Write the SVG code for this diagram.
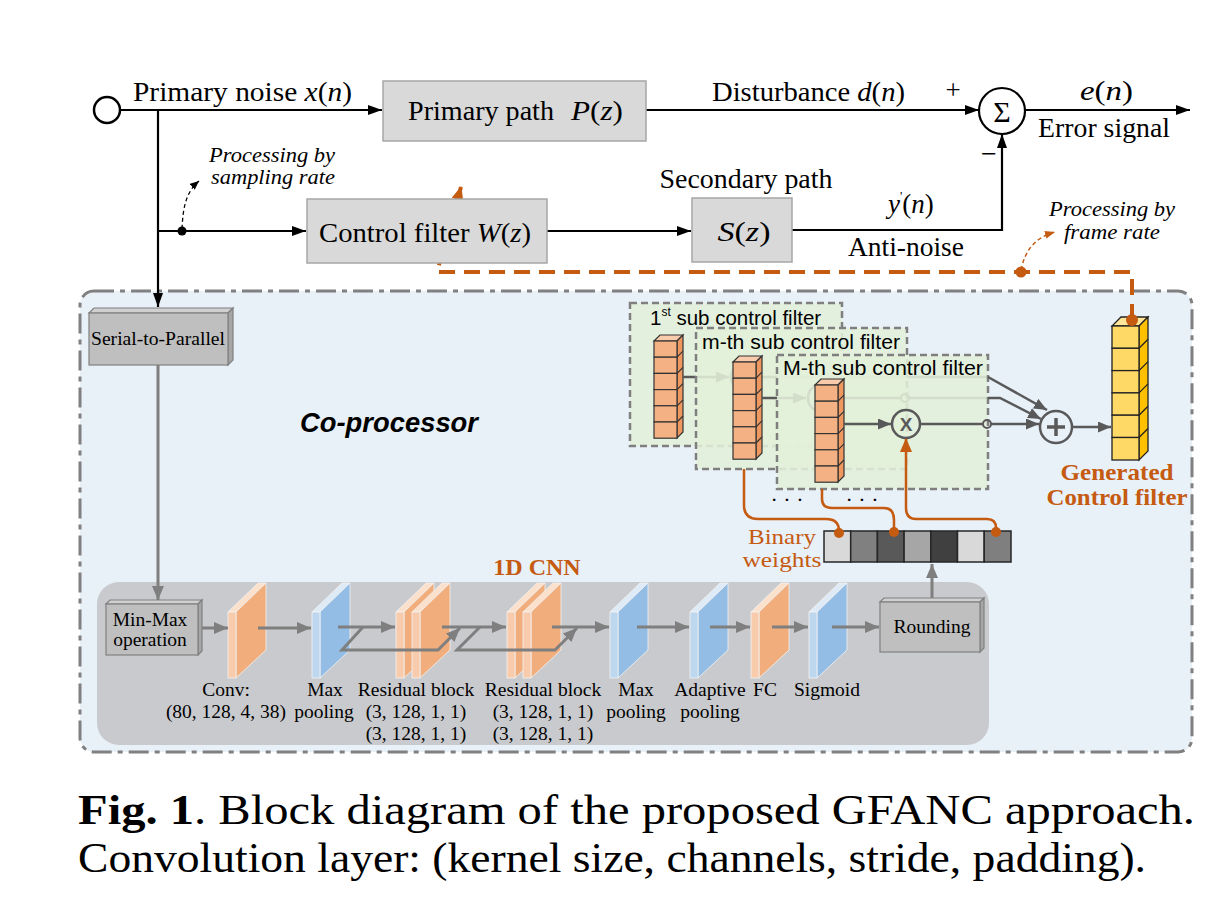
<svg xmlns="http://www.w3.org/2000/svg" width="1224" height="902" viewBox="0 0 1224 902">
<style>
.t{font-family:"Liberation Serif","Times New Roman",serif;fill:#000}
.s{font-family:"Liberation Sans",Arial,sans-serif;fill:#000}
.box{fill:#d9d9d9;stroke:#a6a6a6;stroke-width:1.5}
.ln{stroke:#000;stroke-width:2.2;fill:none}
.gl{stroke:#7f7f7f;stroke-width:3;fill:none}
.dl{stroke:#595959;stroke-width:2.5;fill:none}
.or{stroke:#c55a11;stroke-width:2.5;fill:none}
.sub{fill:#e2efda;fill-opacity:.88;stroke:#7f7f7f;stroke-width:2.5;stroke-dasharray:7 4}
.cf{fill:#f4b183;stroke:#333;stroke-width:1.2}
.cs{fill:#ee9860;stroke:#333;stroke-width:1.2}
.ct{fill:#f8cbad;stroke:#333;stroke-width:1.2}
.yf{fill:#ffd966;stroke:#222;stroke-width:1.3}
.ys{fill:#ffc000;stroke:#222;stroke-width:1.3}
.yt{fill:#ffe699;stroke:#222;stroke-width:1.3}
.ot{fill:#c55a11}
</style>
<defs>
<marker id="ab" markerUnits="userSpaceOnUse" markerWidth="14" markerHeight="10" refX="14" refY="5" orient="auto"><path d="M0,0L14,5L0,10z" fill="#000"/></marker>
<marker id="abs" markerUnits="userSpaceOnUse" markerWidth="9" markerHeight="8" refX="9" refY="4" orient="auto"><path d="M0,0L9,4L0,8z" fill="#000"/></marker>
<marker id="ag" markerUnits="userSpaceOnUse" markerWidth="14" markerHeight="12" refX="14" refY="6" orient="auto"><path d="M0,0L14,6L0,12z" fill="#7f7f7f"/></marker>
<marker id="ad" markerUnits="userSpaceOnUse" markerWidth="13" markerHeight="11" refX="13" refY="5.5" orient="auto"><path d="M0,0L13,5.5L0,11z" fill="#595959"/></marker>
<marker id="ao" markerUnits="userSpaceOnUse" markerWidth="14" markerHeight="12" refX="13" refY="6" orient="auto"><path d="M0,0L14,6L0,12z" fill="#c55a11"/></marker>
<marker id="aos" markerUnits="userSpaceOnUse" markerWidth="10" markerHeight="8" refX="10" refY="4" orient="auto"><path d="M0,0L10,4L0,8z" fill="#c55a11"/></marker>
<g id="slabO">
<polygon points="0,29 8,29 38,0 30,0" fill="#fbe0cc" stroke="#f2f2f2" stroke-width="0.8"/>
<polygon points="8,29 38,0 38,67 8,95" fill="#f1ad7c" stroke="#f2f2f2" stroke-width="0.8"/>
<rect x="0" y="29" width="8" height="66" fill="#f8cbad" stroke="#f2f2f2" stroke-width="0.8"/>
</g>
<g id="slabB">
<polygon points="0,29 8,29 38,0 30,0" fill="#deebf7" stroke="#f2f2f2" stroke-width="0.8"/>
<polygon points="8,29 38,0 38,67 8,95" fill="#93bde4" stroke="#f2f2f2" stroke-width="0.8"/>
<rect x="0" y="29" width="8" height="66" fill="#bdd7ee" stroke="#f2f2f2" stroke-width="0.8"/>
</g>
<g id="col">
<polygon points="0,0 23,0 29,-6 6,-6" class="ct"/>
<polygon points="23,0 29,-6 29,91 23,97" class="cs"/>
<rect x="0" y="0" width="23" height="16.2" class="cf"/>
<rect x="0" y="16.2" width="23" height="16.2" class="cf"/>
<rect x="0" y="32.4" width="23" height="16.2" class="cf"/>
<rect x="0" y="48.6" width="23" height="16.2" class="cf"/>
<rect x="0" y="64.8" width="23" height="16.2" class="cf"/>
<rect x="0" y="81" width="23" height="16.2" class="cf"/>
<path d="M23,16.2l6,-6M23,32.4l6,-6M23,48.6l6,-6M23,64.8l6,-6M23,81l6,-6" stroke="#333" stroke-width="1.2"/>
</g>
</defs>
<rect width="1224" height="902" fill="#fff"/>

<g id="coprocessor">
<rect x="80" y="291" width="1112" height="461" rx="14" fill="#e8f0f8" stroke="#808080" stroke-width="3" stroke-dasharray="20 6 5 6"/>
<text class="s" x="300" y="432" font-size="27" font-weight="bold" font-style="italic" textLength="178" lengthAdjust="spacingAndGlyphs">Co-processor</text>
</g>

<g id="cnn">
<rect x="97" y="582" width="892" height="163" rx="22" fill="#c9cacd"/>
<text class="t" x="537" y="575" font-size="24" font-weight="bold" text-anchor="middle" style="fill:#c55a11">1D CNN</text>
</g>

<g id="minmax">
<polygon points="106,604 110,600 202,600 198,604" fill="#d0d0d0" stroke="#808080" stroke-width="1.2"/>
<polygon points="198,604 202,600 202,651 198,655" fill="#a6a6a6" stroke="#808080" stroke-width="1.2"/>
<rect x="106" y="604" width="92" height="51" fill="#bfbfbf" stroke="#808080" stroke-width="1.2"/>
<text class="t" x="150" y="626" font-size="19.5" text-anchor="middle">Min-Max</text>
<text class="t" x="150" y="646" font-size="19.5" text-anchor="middle">operation</text>
</g>
<g id="conv"><use href="#slabO" x="228" y="583"/>
<text class="t" x="226" y="696" font-size="19.5" text-anchor="middle">Conv:</text>
<text class="t" x="226" y="718" font-size="19.5" text-anchor="middle">(80, 128, 4, 38)</text></g>
<g id="maxpool1"><use href="#slabB" x="312" y="583"/>
<text class="t" x="325" y="696" font-size="19.5" text-anchor="middle">Max</text>
<text class="t" x="324" y="718" font-size="19.5" text-anchor="middle">pooling</text></g>
<g id="res1"><use href="#slabO" x="396" y="583"/><use href="#slabO" x="412" y="583"/>
<text class="t" x="416" y="696" font-size="19.5" text-anchor="middle">Residual block</text>
<text class="t" x="416" y="718" font-size="19.5" text-anchor="middle">(3, 128, 1, 1)</text>
<text class="t" x="416" y="740" font-size="19.5" text-anchor="middle">(3, 128, 1, 1)</text></g>
<g id="res2"><use href="#slabO" x="507" y="583"/><use href="#slabO" x="523" y="583"/>
<text class="t" x="543" y="696" font-size="19.5" text-anchor="middle">Residual block</text>
<text class="t" x="543" y="718" font-size="19.5" text-anchor="middle">(3, 128, 1, 1)</text>
<text class="t" x="543" y="740" font-size="19.5" text-anchor="middle">(3, 128, 1, 1)</text></g>
<g id="maxpool2"><use href="#slabB" x="610" y="583"/>
<text class="t" x="636" y="696" font-size="19.5" text-anchor="middle">Max</text>
<text class="t" x="636" y="718" font-size="19.5" text-anchor="middle">pooling</text></g>
<g id="adaptive"><use href="#slabB" x="690" y="583"/>
<text class="t" x="710" y="696" font-size="19.5" text-anchor="middle">Adaptive</text>
<text class="t" x="710" y="718" font-size="19.5" text-anchor="middle">pooling</text></g>
<g id="fc"><use href="#slabO" x="751" y="583"/>
<text class="t" x="765" y="696" font-size="19.5" text-anchor="middle">FC</text></g>
<g id="sigmoid"><use href="#slabB" x="809" y="583"/>
<text class="t" x="827" y="696" font-size="19.5" text-anchor="middle">Sigmoid</text></g>
<g id="rounding">
<polygon points="880,602 884,598 984,598 980,602" fill="#d0d0d0" stroke="#808080" stroke-width="1.2"/>
<polygon points="980,602 984,598 984,648 980,652" fill="#a6a6a6" stroke="#808080" stroke-width="1.2"/>
<rect x="880" y="602" width="100" height="50" fill="#bfbfbf" stroke="#808080" stroke-width="1.2"/>
<text class="t" x="932" y="633" font-size="19.5" text-anchor="middle">Rounding</text>
</g>

<g id="sub1">
<rect x="630" y="303" width="212" height="143" class="sub"/>
<text class="s" x="650" y="325" font-size="20.5">1<tspan font-size="12" dy="-9">st</tspan><tspan dy="9"> sub control filter</tspan></text>
<use href="#col" x="654" y="341"/>
<path class="dl" d="M683,377H729" marker-end="url(#ad)"/>
<circle cx="745" cy="377" r="14" fill="none" stroke="#595959" stroke-width="2.5"/>
<path class="dl" d="M759,377H821M829,377H988"/>
<circle cx="825" cy="377" r="4" fill="none" stroke="#595959" stroke-width="2"/>
</g>
<g id="subm">
<rect x="696" y="328" width="211" height="141" class="sub"/>
<text class="s" x="702" y="349" font-size="19.5" textLength="198" lengthAdjust="spacingAndGlyphs">m-th sub control filter</text>
<use href="#col" x="733" y="362"/>
<path class="dl" d="M762,398H806" marker-end="url(#ad)"/>
<circle cx="822" cy="398" r="14" fill="none" stroke="#595959" stroke-width="2.5"/>
<path class="dl" d="M836,398H901M909,398H988"/>
<circle cx="905" cy="398" r="4" fill="none" stroke="#595959" stroke-width="2"/>
</g>
<g id="subM">
<rect x="777" y="355" width="211" height="134" class="sub"/>
<text class="s" x="783" y="375" font-size="19.5" textLength="200" lengthAdjust="spacingAndGlyphs">M-th sub control filter</text>
<use href="#col" x="815" y="385"/>
<path class="dl" d="M844,424H891" marker-end="url(#ad)"/>
<circle cx="906" cy="424" r="14" fill="none" stroke="#595959" stroke-width="2.5"/>
<text class="s" x="906" y="431" font-size="19" font-weight="bold" text-anchor="middle" style="fill:#595959">X</text>
<path class="dl" d="M920,424H983"/>
<circle cx="987" cy="424" r="4" fill="none" stroke="#595959" stroke-width="2"/>
<text class="t" x="787" y="507" font-size="22" text-anchor="middle">· · ·</text>
<text class="t" x="862" y="507" font-size="22" text-anchor="middle">· · ·</text>
</g>
<g id="sum2">
<circle cx="1056" cy="427" r="16" fill="none" stroke="#595959" stroke-width="2.5"/>
<path d="M1047,427H1065M1056,418V436" stroke="#595959" stroke-width="3.5"/>
</g>
<g id="generated">
<polygon points="1112,326 1139,326 1148,317 1121,317" class="yt"/>
<polygon points="1139,326 1148,317 1148,451 1139,460" class="ys"/>
<rect x="1112" y="326" width="27" height="22.3" class="yf"/>
<rect x="1112" y="348.3" width="27" height="22.3" class="yf"/>
<rect x="1112" y="370.6" width="27" height="22.3" class="yf"/>
<rect x="1112" y="392.9" width="27" height="22.3" class="yf"/>
<rect x="1112" y="415.2" width="27" height="22.3" class="yf"/>
<rect x="1112" y="437.5" width="27" height="22.5" class="yf"/>
<path d="M1139,348.3l9,-9M1139,370.6l9,-9M1139,392.9l9,-9M1139,415.2l9,-9M1139,437.5l9,-9" stroke="#222" stroke-width="1.3"/>
<text class="t" x="1117" y="480" font-size="22.5" font-weight="bold" text-anchor="middle" textLength="113" lengthAdjust="spacingAndGlyphs" style="fill:#c55a11">Generated</text>
<text class="t" x="1117" y="505" font-size="22.5" font-weight="bold" text-anchor="middle" textLength="141" lengthAdjust="spacingAndGlyphs" style="fill:#c55a11">Control filter</text>
</g>
<g id="binary">
<rect x="824" y="531" width="26.7" height="31" fill="#d9d9d9" stroke="#262626" stroke-width="1.5"/>
<rect x="850.7" y="531" width="26.7" height="31" fill="#808080" stroke="#262626" stroke-width="1.5"/>
<rect x="877.4" y="531" width="26.7" height="31" fill="#595959" stroke="#262626" stroke-width="1.5"/>
<rect x="904.1" y="531" width="26.7" height="31" fill="#a6a6a6" stroke="#262626" stroke-width="1.5"/>
<rect x="930.8" y="531" width="26.7" height="31" fill="#404040" stroke="#262626" stroke-width="1.5"/>
<rect x="957.5" y="531" width="26.7" height="31" fill="#d9d9d9" stroke="#262626" stroke-width="1.5"/>
<rect x="984.2" y="531" width="26.8" height="31" fill="#7f7f7f" stroke="#262626" stroke-width="1.5"/>
<text class="t" x="782" y="544" font-size="22" text-anchor="middle" textLength="68" lengthAdjust="spacingAndGlyphs" style="fill:#c55a11">Binary</text>
<text class="t" x="782" y="567" font-size="22" text-anchor="middle" textLength="79" lengthAdjust="spacingAndGlyphs" style="fill:#c55a11">weights</text>
</g>

<g id="connectors">
<path d="M1132,320V272H437L461,187" fill="none" stroke="#c55a11" stroke-width="4" stroke-dasharray="16 9" marker-end="url(#ao)"/>
<circle cx="1132" cy="320" r="6" fill="#c55a11"/>
<circle cx="1021" cy="272" r="5.5" fill="#c55a11"/>
<path d="M1021,270C1025,251 1034,238 1055,232" fill="none" stroke="#c55a11" stroke-width="1.5" stroke-dasharray="4 3" marker-end="url(#aos)"/>
<path d="M120,110H382" class="ln" marker-end="url(#ab)"/>
<path d="M158,110V307" class="ln" marker-end="url(#ab)"/>
<path d="M158,231H306" class="ln" marker-end="url(#ab)"/>
<circle cx="182" cy="231" r="4.5" fill="#000"/>
<path d="M182,229C183,207 186,192 199,181" fill="none" stroke="#000" stroke-width="1.3" stroke-dasharray="4 3" marker-end="url(#abs)"/>
<path d="M547,231H691" class="ln" marker-end="url(#ab)"/>
<path d="M645,110H979" class="ln" marker-end="url(#ab)"/>
<path d="M1025,110H1190" class="ln" marker-end="url(#ab)"/>
<path d="M791,230H1002V134" class="ln" marker-end="url(#ab)"/>
<path d="M158,363V600" class="gl" marker-end="url(#ag)"/>
<path d="M202,628H228" class="gl" marker-end="url(#ag)"/>
<path d="M258,628H311" class="gl" marker-end="url(#ag)"/>
<path d="M338,627H395" class="gl" marker-end="url(#ag)"/>
<path d="M363,627L342,650H438L460,628" class="gl" marker-end="url(#ag)"/>
<path d="M442,627H506" class="gl" marker-end="url(#ag)"/>
<path d="M480,627L457,650H555L577,628" class="gl" marker-end="url(#ag)"/>
<path d="M552,627H609" class="gl" marker-end="url(#ag)"/>
<path d="M637,627H689" class="gl" marker-end="url(#ag)"/>
<path d="M710,627H750" class="gl" marker-end="url(#ag)"/>
<path d="M772,627H808" class="gl" marker-end="url(#ag)"/>
<path d="M832,627H879" class="gl" marker-end="url(#ag)"/>
<path d="M932,598V564" class="gl" marker-end="url(#ag)"/>
<path d="M988,377L1047,410" class="dl" marker-end="url(#ad)"/>
<path d="M988,398H1000L1041,419" class="dl" marker-end="url(#ad)"/>
<path d="M991,424H1039" class="dl" marker-end="url(#ad)"/>
<path d="M1072,427H1111" class="dl" marker-end="url(#ad)"/>
<path class="or" d="M744,469V505Q744,519 758,519H826Q839,519 839,531"/>
<path class="or" d="M822,489V499Q822,508 832,508H884Q894,508 894,520V531"/>
<path class="or" d="M996,532V528Q996,519 987,519H916Q906,519 906,508V439" marker-end="url(#ao)"/>
<circle cx="839" cy="533" r="5" fill="#c55a11"/>
<circle cx="894" cy="532" r="5" fill="#c55a11"/>
<circle cx="996" cy="532" r="5" fill="#c55a11"/>
</g>

<g id="source"><circle cx="107" cy="110" r="13" fill="#fff" stroke="#000" stroke-width="2.5"/></g>
<g id="primary-path">
<rect x="383" y="81" width="263" height="60" class="box"/>
<text class="t" x="408" y="120" font-size="27.5" textLength="146" lengthAdjust="spacingAndGlyphs">Primary path</text>
<text class="t" x="571" y="120" font-size="27.5" textLength="52" lengthAdjust="spacingAndGlyphs"><tspan font-style="italic">P</tspan>(<tspan font-style="italic">z</tspan>)</text>
</g>
<g id="control-filter">
<rect x="307" y="199" width="240" height="64" class="box"/>
<text class="t" x="319" y="242" font-size="27.5" textLength="212" lengthAdjust="spacingAndGlyphs">Control filter <tspan font-style="italic">W</tspan>(<tspan font-style="italic">z</tspan>)</text>
</g>
<g id="secondary-path">
<rect x="692" y="198" width="100" height="64" class="box"/>
<text class="t" x="744" y="241" font-size="27.5" text-anchor="middle" textLength="53" lengthAdjust="spacingAndGlyphs"><tspan font-style="italic">S</tspan>(<tspan font-style="italic">z</tspan>)</text>
<text class="t" x="746" y="188" font-size="27.5" text-anchor="middle" textLength="173" lengthAdjust="spacingAndGlyphs">Secondary path</text>
</g>
<g id="sum">
<circle cx="1002" cy="111" r="23" fill="#fff" stroke="#000" stroke-width="2.2"/>
<text class="t" x="1002" y="122" font-size="30" text-anchor="middle">Σ</text>
</g>
<g id="serial-to-parallel">
<polygon points="89,313 94,308 233,308 228,313" fill="#d0d0d0" stroke="#808080" stroke-width="1.2"/>
<polygon points="228,313 233,308 233,360 228,365" fill="#a6a6a6" stroke="#808080" stroke-width="1.2"/>
<rect x="89" y="313" width="139" height="52" fill="#bfbfbf" stroke="#808080" stroke-width="1.2"/>
<text class="t" x="158" y="345" font-size="19" text-anchor="middle" textLength="134" lengthAdjust="spacingAndGlyphs">Serial-to-Parallel</text>
</g>

<g id="labels">
<text class="t" x="133" y="101" font-size="27" textLength="219" lengthAdjust="spacingAndGlyphs">Primary noise <tspan font-style="italic">x</tspan>(<tspan font-style="italic">n</tspan>)</text>
<text class="t" x="712" y="101" font-size="27" textLength="193" lengthAdjust="spacingAndGlyphs">Disturbance <tspan font-style="italic">d</tspan>(<tspan font-style="italic">n</tspan>)</text>
<text class="t" x="953" y="99" font-size="27" text-anchor="middle">+</text>
<text class="t" x="1080" y="100" font-size="27" textLength="53" lengthAdjust="spacingAndGlyphs"><tspan font-style="italic">e</tspan>(<tspan font-style="italic">n</tspan>)</text>
<text class="t" x="1038" y="137" font-size="27" textLength="132" lengthAdjust="spacingAndGlyphs">Error signal</text>
<text class="t" x="989" y="163" font-size="28" text-anchor="middle">−</text>
<text class="t" x="888" y="213" font-size="27"><tspan font-style="italic">y</tspan><tspan font-size="13" dy="-13">'</tspan><tspan dy="13">(</tspan><tspan font-style="italic">n</tspan>)</text>
<text class="t" x="848" y="256" font-size="27" textLength="116" lengthAdjust="spacingAndGlyphs">Anti-noise</text>
<text class="t" x="209" y="162" font-size="20.5" font-style="italic" textLength="126" lengthAdjust="spacingAndGlyphs">Processing by</text>
<text class="t" x="211" y="184" font-size="20.5" font-style="italic" textLength="124" lengthAdjust="spacingAndGlyphs">sampling rate</text>
<text class="t" x="1049" y="216" font-size="20.5" font-style="italic" textLength="126" lengthAdjust="spacingAndGlyphs">Processing by</text>
<text class="t" x="1064" y="239" font-size="20.5" font-style="italic" textLength="96" lengthAdjust="spacingAndGlyphs">frame rate</text>
</g>

<g id="caption">
<text class="t" x="78" y="824" font-size="42" textLength="1117" lengthAdjust="spacingAndGlyphs"><tspan font-weight="bold">Fig. 1</tspan>.  Block diagram of the proposed GFANC approach.</text>
<text class="t" x="78" y="872" font-size="42" textLength="1068" lengthAdjust="spacingAndGlyphs">Convolution layer: (kernel size, channels, stride, padding).</text>
</g>
</svg>
